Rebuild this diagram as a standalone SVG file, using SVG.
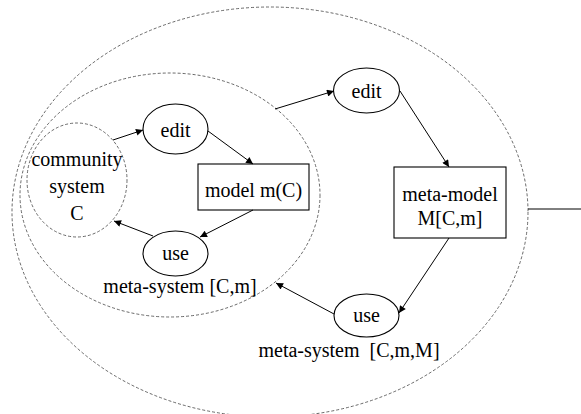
<svg xmlns="http://www.w3.org/2000/svg" width="581" height="414" viewBox="0 0 581 414">
<defs>
<style>
.dash{fill:none;stroke:#444;stroke-width:0.8;stroke-dasharray:3 2}
.node{fill:#fff;stroke:#000;stroke-width:1.1}
.edge{fill:none;stroke:#000;stroke-width:1}
.t{font-size:20px;fill:#000;text-anchor:middle}
</style>
<marker id="ah" viewBox="0 0 10 10" refX="10" refY="5" markerWidth="9" markerHeight="7" markerUnits="userSpaceOnUse" orient="auto">
<path d="M0,0 L10,5 L0,10 z" fill="#000"/>
</marker>
</defs>
<rect width="581" height="414" fill="#fff"/>
<g font-family="'Liberation Serif', 'Times New Roman', 'DejaVu Serif', serif">
<g id="outer-system">
<ellipse class="dash" cx="270" cy="212" rx="258" ry="205"/>
<text class="t" x="349" y="357" xml:space="preserve">meta-system  [C,m,M]</text>
</g>
<g id="middle-system">
<ellipse class="dash" cx="170" cy="195" rx="150" ry="122"/>
<text class="t" x="180" y="293">meta-system [C,m]</text>
</g>
<g id="community">
<ellipse class="dash" cx="77" cy="180" rx="50" ry="57"/>
<text class="t" x="77" y="166">community</text>
<text class="t" x="77" y="193">system</text>
<text class="t" x="77" y="220">C</text>
</g>
<g id="edit1">
<ellipse class="node" cx="175.5" cy="129" rx="32.5" ry="25"/>
<text class="t" x="175.5" y="137">edit</text>
</g>
<g id="model">
<rect class="node" x="198" y="164" width="111" height="46"/>
<text class="t" x="253.5" y="197">model m(C)</text>
</g>
<g id="use1">
<ellipse class="node" cx="175.5" cy="253.5" rx="32.5" ry="22.5"/>
<text class="t" x="175.5" y="260">use</text>
</g>
<g id="edit2">
<ellipse class="node" cx="366.5" cy="90.5" rx="33" ry="22.5"/>
<text class="t" x="366.5" y="98">edit</text>
</g>
<g id="metamodel">
<rect class="node" x="394" y="167" width="112" height="71"/>
<text class="t" x="450" y="201">meta-model</text>
<text class="t" x="450" y="225">M[C,m]</text>
</g>
<g id="use2">
<ellipse class="node" cx="366.5" cy="315.5" rx="32.5" ry="21.5"/>
<text class="t" x="366.5" y="322">use</text>
</g>
</g>
<g id="connectors">
<line class="edge" x1="113" y1="140" x2="143" y2="130" marker-end="url(#ah)"/>
<line class="edge" x1="208" y1="131" x2="253" y2="164" marker-end="url(#ah)"/>
<line class="edge" x1="253" y1="210" x2="200" y2="237" marker-end="url(#ah)"/>
<line class="edge" x1="153" y1="236" x2="114" y2="221" marker-end="url(#ah)"/>
<line class="edge" x1="275" y1="109" x2="334" y2="91" marker-end="url(#ah)"/>
<line class="edge" x1="400" y1="91" x2="449" y2="167" marker-end="url(#ah)"/>
<line class="edge" x1="449" y1="238" x2="399" y2="313" marker-end="url(#ah)"/>
<line class="edge" x1="334" y1="314" x2="276" y2="283" marker-end="url(#ah)"/>
<line class="edge" x1="528" y1="209" x2="581" y2="209"/>
</g>
</svg>
